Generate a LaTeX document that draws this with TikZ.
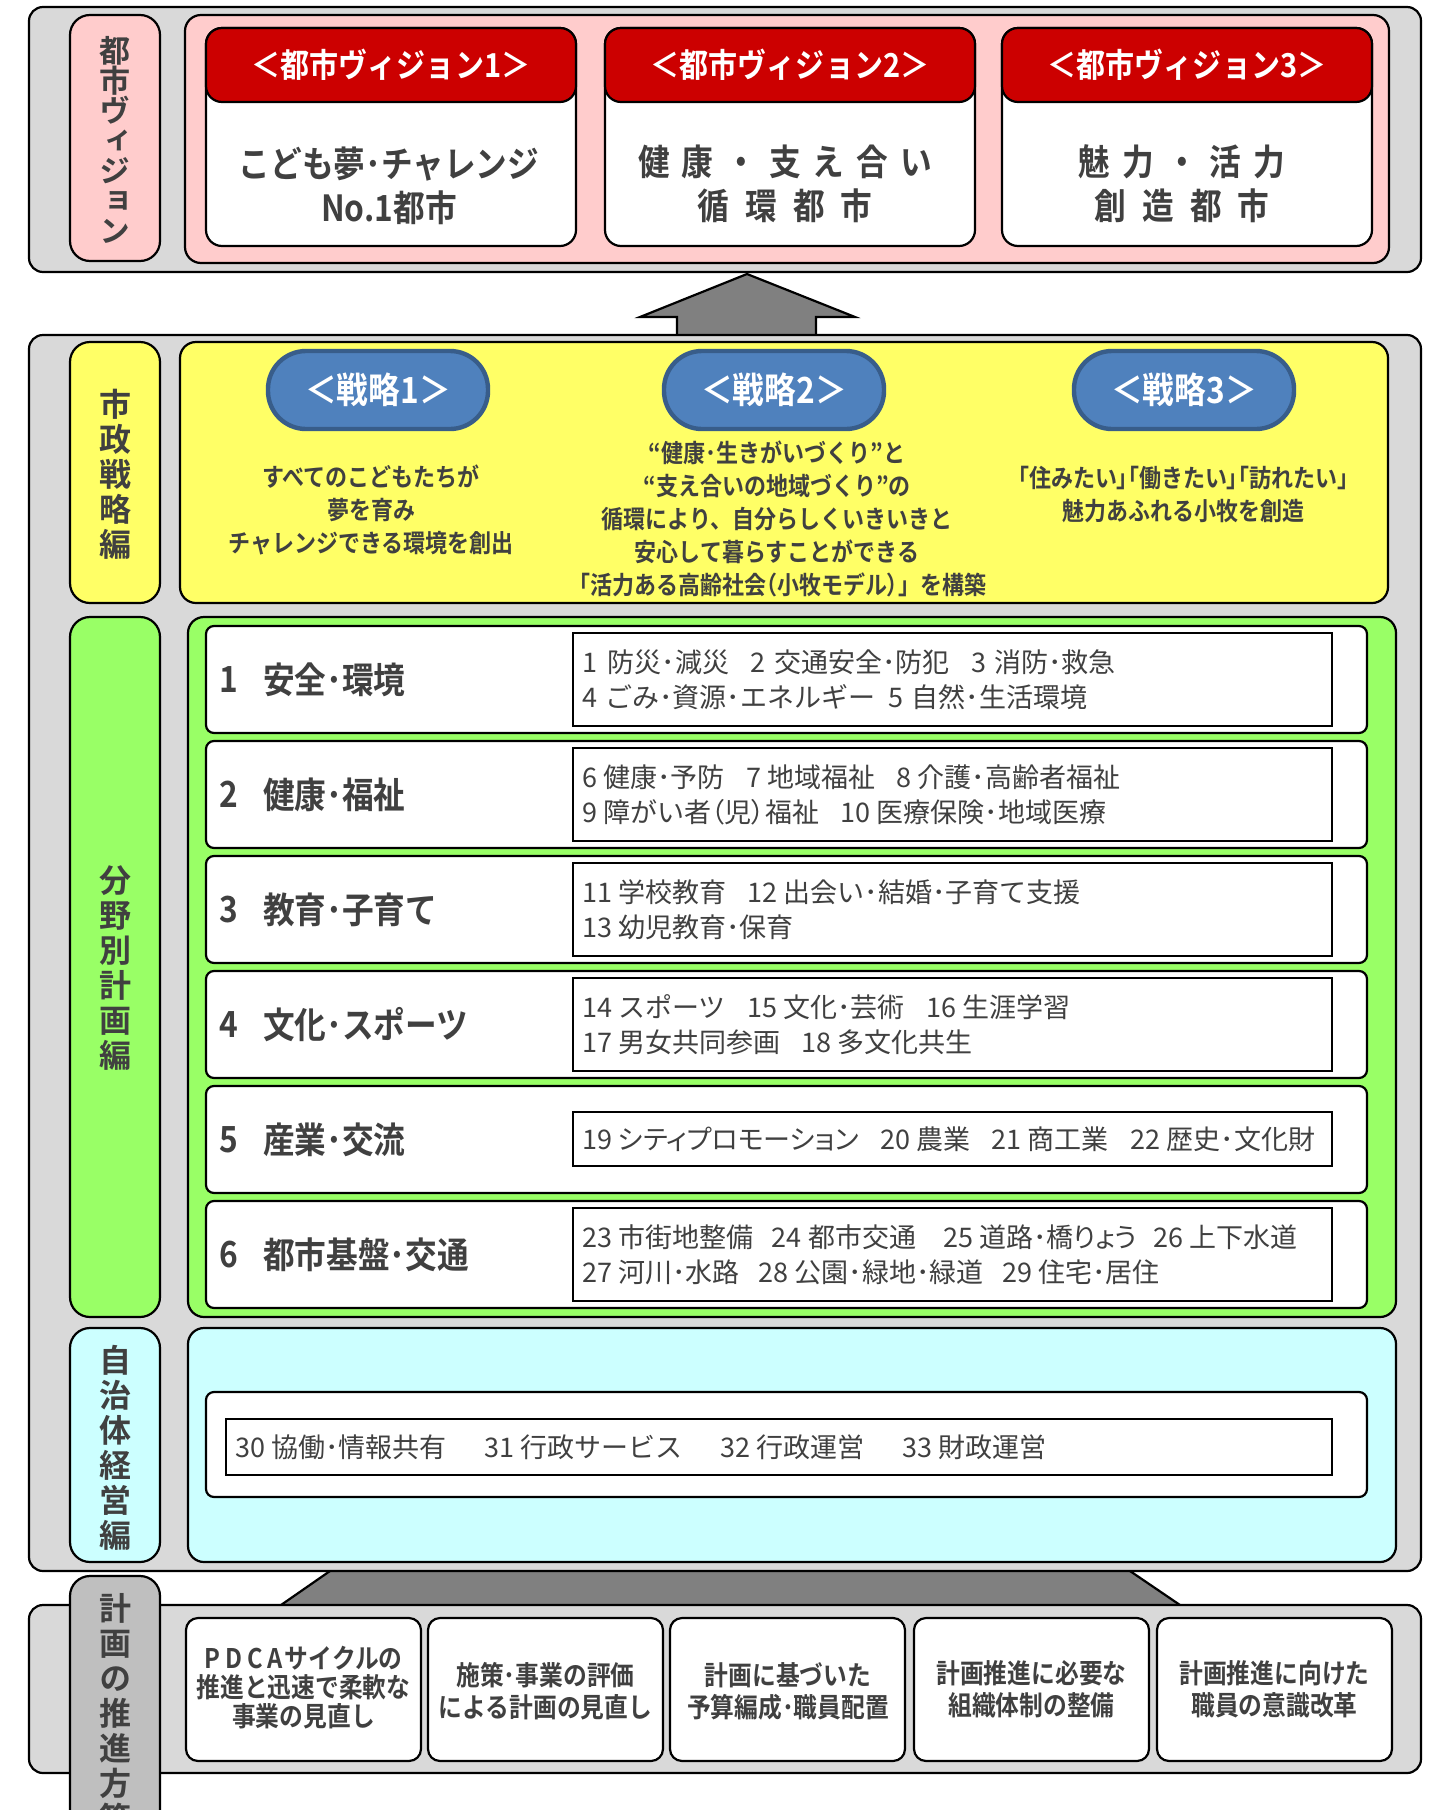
\documentclass[tikz,border=0pt]{standalone}
\usepackage{fontspec}
\setmainfont{Noto Sans CJK JP}
\newfontfamily\jpb{Noto Sans CJK JP Bold}[FakeStretch=0.88]
\newfontfamily\jpbp{Noto Sans CJK JP Bold}[FakeStretch=0.88,RawFeature=+palt]
\newfontfamily\jpv{Noto Sans CJK JP Bold}[RawFeature=+vert]
\newfontfamily\jpr{Noto Sans CJK JP}
\newfontfamily\jpk{Noto Sans CJK JP}[RawFeature=+palt]
\definecolor{gbox}{HTML}{D9D9D9}
\definecolor{pinkc}{HTML}{FFCCCC}
\definecolor{redc}{HTML}{CC0000}
\definecolor{yelc}{HTML}{FFFF66}
\definecolor{pillf}{HTML}{4F81BD}
\definecolor{pillb}{HTML}{385D8A}
\definecolor{grnc}{HTML}{99FF66}
\definecolor{cyac}{HTML}{CCFFFF}
\definecolor{lgc}{HTML}{BFBFBF}
\definecolor{arrowg}{HTML}{808080}
\definecolor{txtc}{HTML}{404040}
\newcommand\jgap[1]{\hspace{#1}}
\begin{document}
\begin{tikzpicture}[x=0.5pt,y=-0.5pt,line width=1.1pt,
  outerbox/.style={draw=black,fill=gbox,rounded corners=7pt},
  lblbox/.style={draw=black,rounded corners=10pt},
  panel/.style={draw=black,rounded corners=8pt},
  card/.style={draw=black,fill=white,rounded corners=8pt},
  rowbox/.style={draw=black,fill=white,rounded corners=4pt},
  innerbox/.style={draw=black,fill=white},
  bcard/.style={draw=black,fill=white,rounded corners=6pt},
  dark/.style={text=txtc,inner sep=0pt},
  vhead/.style={text=white,inner sep=0pt,font=\jpb\fontsize{16.5pt}{16.5pt}\selectfont},
  vbody/.style={dark,align=center,font=\jpb\fontsize{18pt}{22pt}\selectfont},
  pill/.style={draw=pillb,line width=2.2pt,fill=pillf,rounded corners=19pt,minimum width=110pt,minimum height=39pt,text=white,font=\jpb\fontsize{18pt}{18pt}\selectfont,inner sep=0pt},
  sdesc/.style={dark,align=center,font=\jpb\fontsize{12.5pt}{16.5pt}\selectfont},
  vlab/.style={dark,align=center,font=\jpv\fontsize{16pt}{17.5pt}\selectfont},
  rlab/.style={dark,anchor=west,font=\jpb\fontsize{18pt}{18pt}\selectfont},
  det/.style={dark,anchor=west,align=left,font=\jpr\fontsize{13.5pt}{17.5pt}\selectfont},
  bctext/.style={dark,align=center,font=\jpb\fontsize{13.5pt}{16pt}\selectfont}
]
\useasboundingbox (0,0) rectangle (1438,1810);
\clip (0,0) rectangle (1438,1810);
\fill[white] (0,0) rectangle (1438,1810);

% block arrows
\draw[fill=arrowg] (677,350) -- (677,317) -- (640,317) -- (747,274) -- (855,317) -- (816,317) -- (816,350);
\fill[arrowg] (330,1571) -- (1130,1571) -- (1180,1605) -- (281,1605) -- cycle;
\draw (330,1571) -- (281,1605);
\draw (1130,1571) -- (1180,1605);

% outer gray boxes
\draw[outerbox] (29,7) rectangle (1421,272);
\draw[outerbox] (29,335) rectangle (1421,1571);
\draw[outerbox] (29,1605) rectangle (1421,1773);

% ===== top: city visions =====
\draw[lblbox,fill=pinkc] (70,15) rectangle (160,261);
\node[vlab,font=\jpv\fontsize{15.5pt}{15pt}\selectfont] (lab1) at (115,140) {都\\市\\ヴ\\ィ\\ジ\\ョ\\ン};
\draw[panel,fill=pinkc] (185,15) rectangle (1389,263);
\foreach \x/\i in {206/1,605/2,1002/3}{
  \draw[card] (\x,28) rectangle ++(370,218);
  \draw[card,fill=redc] (\x,28) rectangle ++(370,74);
  \node[vhead] (vh\i) at (\x+185,65) {＜都市ヴィジョン\i＞};
}
\node[vbody] (vb1) at (389,186) {こども夢･チャレンジ\\No.1都市};
\node[vbody] (vb2) at (785,184) {健\jgap{6pt}康\jgap{6pt}・\jgap{6pt}支\jgap{6pt}え\jgap{6pt}合\jgap{6pt}い\\循\jgap{8pt}環\jgap{8pt}都\jgap{8pt}市};
\node[vbody] (vb3) at (1182,184) {魅\jgap{6pt}力\jgap{6pt}・\jgap{6pt}活\jgap{6pt}力\\創\jgap{8pt}造\jgap{8pt}都\jgap{8pt}市};

% ===== strategies =====
\draw[lblbox,fill=yelc] (70,342) rectangle (160,603);
\node[vlab] (lab2) at (115,474) {市\\政\\戦\\略\\編};
\draw[panel,fill=yelc] (180,342) rectangle (1388,603);
\node[pill] (p1) at (378,390) {＜戦略1＞};
\node[pill] (p2) at (774,390) {＜戦略2＞};
\node[pill] (p3) at (1184,390) {＜戦略3＞};
\node[sdesc] (s1) at (371,510) {すべてのこどもたちが\\夢を育み\\チャレンジできる環境を創出};
\node[sdesc] (s2) at (777,519) {“健康･生きがいづくり”と\\“支え合いの地域づくり”の\\循環により、自分らしくいきいきと\\安心して暮らすことができる\\「活力ある高齢社会{\jpbp （}小牧モデル{\jpbp ）}」を構築};
\node[sdesc] (s3) at (1183,495) {「住みたい{\jpbp 」「}働きたい{\jpbp 」「}訪れたい」\\魅力あふれる小牧を創造};

% ===== sector plans =====
\draw[lblbox,fill=grnc] (70,617) rectangle (160,1317);
\node[vlab] (lab3) at (115,968) {分\\野\\別\\計\\画\\編};
\draw[panel,fill=grnc] (188,617) rectangle (1396,1317);
\foreach \i in {1,...,6}{
  \pgfmathsetmacro\ty{626+(\i-1)*115}
  \draw[rowbox] (206,\ty) rectangle (1367,\ty+107);
}
\foreach \i in {1,2,3,4,6}{
  \pgfmathsetmacro\ty{626+(\i-1)*115}
  \draw[innerbox] (573,\ty+7) rectangle (1332,\ty+100);
}
\draw[innerbox] (573,1112) rectangle (1332,1166);

\node[rlab] (n1) at (218,679.5) {1};
\node[rlab] (t1) at (262,679.5) {安全･環境};
\node[rlab] (n2) at (218,794.5) {2};
\node[rlab] (t2) at (262,794.5) {健康･福祉};
\node[rlab] (n3) at (218,909.5) {3};
\node[rlab] (t3) at (262,909.5) {教育･子育て};
\node[rlab] (n4) at (218,1024.5) {4};
\node[rlab] (t4) at (262,1024.5) {文化･スポーツ};
\node[rlab] (n5) at (218,1139.5) {5};
\node[rlab] (t5) at (262,1139.5) {産業･交流};
\node[rlab] (n6) at (218,1254.5) {6};
\node[rlab] (t6) at (262,1254.5) {都市基盤･交通};

\node[det] (d1) at (581,679.5) {1\jgap{0.4em}防災･減災\jgap{0.8em}2\jgap{0.3em}交通安全･防犯\jgap{0.8em}3\jgap{0.3em}消防･救急\\4\jgap{0.3em}ごみ･資源･エネルギー\jgap{0.5em}5\jgap{0.3em}自然･生活環境};
\node[det] (d2) at (581,794.5) {6 健康･予防\jgap{0.8em}7 地域福祉\jgap{0.8em}8 介護･高齢者福祉\\9 障がい者{\jpk （児）}福祉\jgap{0.8em}10 医療保険･地域医療};
\node[det] (d3) at (581,909.5) {11 学校教育\jgap{0.8em}12 出会い･結婚･子育て支援\\13 幼児教育･保育};
\node[det] (d4) at (581,1024.5) {14 スポーツ\jgap{0.8em}15 文化･芸術\jgap{0.8em}16 生涯学習\\17 男女共同参画\jgap{0.8em}18 多文化共生};
\node[det] (d5) at (581,1139.5) {19 {\jpk シティプロモーション}\jgap{0.8em}20 農業\jgap{0.8em}21 商工業\jgap{0.8em}22 歴史･文化財};
\node[det] (d6) at (581,1254.5) {23 市街地整備\jgap{0.7em}24 都市交通\jgap{1.0em}25 道路･橋{\jpk りょう}\jgap{0.6em}26 上下水道\\27 河川･水路\jgap{0.7em}28 公園･緑地･緑道\jgap{0.7em}29 住宅･居住};

% ===== management =====
\draw[lblbox,fill=cyac] (70,1328) rectangle (160,1562);
\node[vlab] (lab4) at (115,1448) {自\\治\\体\\経\\営\\編};
\draw[panel,fill=cyac] (188,1328) rectangle (1396,1562);
\draw[rowbox] (206,1392) rectangle (1367,1497);
\draw[innerbox] (226,1419) rectangle (1332,1475);
\node[det] (d7) at (234,1447) {30 協働･情報共有\jgap{1.4em}31 行政サービス\jgap{1.4em}32 行政運営\jgap{1.4em}33 財政運営};

% ===== promotion measures =====
\draw[lblbox,fill=lgc] (70,1576) rectangle (160,1900);
\node[vlab,anchor=north] (lab5) at (115,1592) {計\\画\\の\\推\\進\\方\\策};
\foreach \x/\i in {186/1,428/2,670/3,914/4,1157/5}{
  \draw[bcard] (\x,1618) rectangle ++(235,143);
}
\node[bctext,font=\jpb\fontsize{13.5pt}{14.5pt}\selectfont] (b1) at (303.5,1688) {P\jgap{2.5pt}D\jgap{2.5pt}C\jgap{2.5pt}A\jgap{1pt}サイクルの\\推進と迅速で柔軟な\\事業の見直し};
\node[bctext] (b2) at (545.5,1691) {施策･事業の評価\\による計画の見直し};
\node[bctext] (b3) at (788,1691) {計画に基づいた\\予算編成･職員配置};
\node[bctext] (b4) at (1031.5,1689) {計画推進に必要な\\組織体制の整備};
\node[bctext] (b5) at (1274.5,1689) {計画推進に向けた\\職員の意識改革};
\end{tikzpicture}
\end{document}
